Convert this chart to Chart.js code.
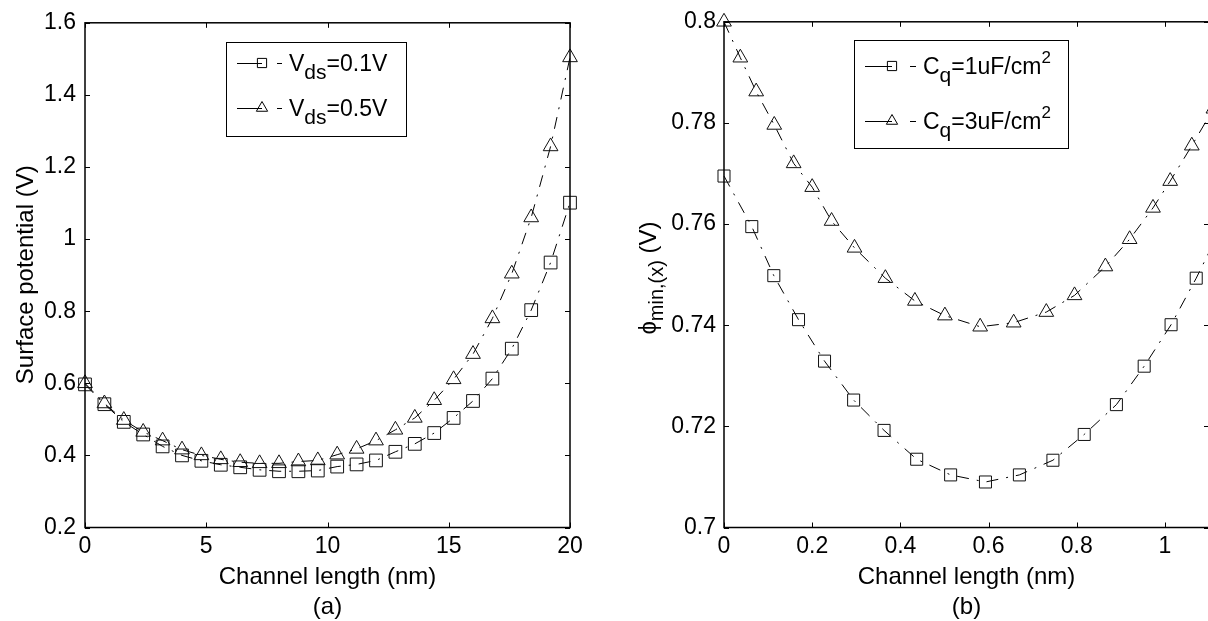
<!DOCTYPE html>
<html>
<head>
<meta charset="utf-8">
<title>Surface potential vs channel length</title>
<script src="https://cdn.jsdelivr.net/npm/chart.js@4.4.0/dist/chart.umd.min.js"></script>
<style>
  html, body { margin: 0; padding: 0; background: #fff; overflow: hidden; }
  #wrap { position: relative; width: 1208px; height: 621px; overflow: hidden; }
  #chartA { position: absolute; left: 0; top: 0; }
  #chartB { position: absolute; left: 604px; top: 0; }
</style>
</head>
<body>
<div id="wrap">
  <canvas id="chartA" width="604" height="621"></canvas>
  <canvas id="chartB" width="660" height="621"></canvas>
</div>
<script>
// (a) surface potential along the channel
const lengthA = [0, 0.8, 1.6, 2.4, 3.2, 4.0, 4.8, 5.6, 6.4, 7.2, 8.0, 8.8, 9.6,
                 10.4, 11.2, 12.0, 12.8, 13.6, 14.4, 15.2, 16.0, 16.8, 17.6, 18.4, 19.2, 20.0];
const vds01 = [0.597, 0.542, 0.493, 0.458, 0.425, 0.400, 0.385, 0.374, 0.367, 0.360, 0.356, 0.356, 0.358,
               0.369, 0.375, 0.386, 0.410, 0.432, 0.462, 0.504, 0.551, 0.613, 0.696, 0.803, 0.935, 1.101];
const vds05 = [0.600, 0.544, 0.498, 0.465, 0.441, 0.416, 0.400, 0.389, 0.381, 0.378, 0.378, 0.383, 0.386,
               0.402, 0.418, 0.441, 0.471, 0.504, 0.553, 0.611, 0.681, 0.780, 0.904, 1.060, 1.257, 1.504];

// (b) minimum potential, two quantum capacitances
const lengthCq1 = [0.000, 0.063, 0.113, 0.169, 0.228, 0.294, 0.363, 0.437, 0.514, 0.593, 0.670, 0.746,
                   0.817, 0.890, 0.953, 1.014, 1.071, 1.126];
const phiCq1 = [0.7695, 0.7595, 0.7498, 0.7411, 0.7329, 0.7252, 0.7192, 0.7135, 0.7104, 0.7090, 0.7104, 0.7133,
                0.7184, 0.7243, 0.7319, 0.7401, 0.7493, 0.7590];
const lengthCq3 = [0.000, 0.037, 0.073, 0.114, 0.158, 0.200, 0.244, 0.296, 0.366, 0.433, 0.501, 0.581,
                   0.657, 0.731, 0.795, 0.865, 0.920, 0.973, 1.012, 1.061, 1.110];
const phiCq3 = [0.8000, 0.7929, 0.7862, 0.7796, 0.7720, 0.7673, 0.7606, 0.7553, 0.7493, 0.7448, 0.7419, 0.7397,
                0.7405, 0.7426, 0.7459, 0.7516, 0.7570, 0.7632, 0.7685, 0.7755, 0.7828];

const ticksA_x = [0, 5, 10, 15, 20];
const ticksB_x = [0, 0.2, 0.4, 0.6, 0.8, 1];

const FONT = "'Liberation Sans', Arial, Helvetica, sans-serif";
const TICK_SIZE = 23;
const LABEL_SIZE = 24;

const toPoints = (xs, ys) => xs.map((x, i) => ({ x: x, y: ys[i] }));
const tickText = v => String(Math.round(v * 1000) / 1000);

// texte avec indices / exposants : suite de morceaux {t, s, dy}
function runsWidth(ctx, runs) {
  let w = 0;
  runs.forEach(r => { ctx.font = r.s + 'px ' + FONT; w += ctx.measureText(r.t).width; });
  return w;
}
function drawRuns(ctx, runs, x, y) {
  runs.forEach(r => {
    ctx.font = r.s + 'px ' + FONT;
    ctx.fillText(r.t, x, y + (r.dy || 0));
    x += ctx.measureText(r.t).width;
  });
}

function drawMarker(ctx, style, x, y, r) {
  ctx.beginPath();
  if (style === 'rect') {
    const s = r * Math.SQRT1_2;
    ctx.rect(x - s, y - s, 2 * s, 2 * s);
  } else {
    ctx.moveTo(x, y - r);
    ctx.lineTo(x + r * 0.866, y + r / 2);
    ctx.lineTo(x - r * 0.866, y + r / 2);
    ctx.closePath();
  }
  ctx.stroke();
}

// cadre type MATLAB : boite, graduations internes, titres, legende
const matlabAxes = {
  id: 'matlabAxes',
  afterDraw(chart, args, o) {
    const { ctx, chartArea: a, scales } = chart;
    ctx.save();
    ctx.strokeStyle = '#000';
    ctx.fillStyle = '#000';
    ctx.lineWidth = 1;
    ctx.setLineDash([]);

    ctx.beginPath();
    scales.x.ticks.forEach(t => {
      const px = Math.round(scales.x.getPixelForValue(t.value)) + 0.5;
      ctx.moveTo(px, a.bottom); ctx.lineTo(px, a.bottom - 5);
      ctx.moveTo(px, a.top); ctx.lineTo(px, a.top + 5);
    });
    scales.y.ticks.forEach(t => {
      const py = Math.round(scales.y.getPixelForValue(t.value)) + 0.5;
      ctx.moveTo(a.left, py); ctx.lineTo(a.left + 5, py);
      ctx.moveTo(a.right, py); ctx.lineTo(a.right - 5, py);
    });
    ctx.stroke();

    ctx.lineWidth = 1.5;
    ctx.strokeRect(a.left, a.top, a.right - a.left, a.bottom - a.top);

    // titres
    const cx = (a.left + a.right) / 2;
    ctx.textAlign = 'center';
    ctx.textBaseline = 'alphabetic';
    ctx.font = LABEL_SIZE + 'px ' + FONT;
    ctx.fillText(o.xTitle, cx, 584);
    ctx.fillText(o.caption, cx, 614);

    ctx.textAlign = 'left';
    ctx.save();
    ctx.translate(o.yTitleX, o.yTitleY);
    ctx.rotate(-Math.PI / 2);
    const yw = runsWidth(ctx, o.yTitle);
    drawRuns(ctx, o.yTitle, -yw / 2, 0);
    ctx.restore();

    // legende
    const L = o.legend;
    ctx.fillStyle = '#fff';
    ctx.fillRect(L.box[0], L.box[1], L.box[2] - L.box[0], L.box[3] - L.box[1]);
    ctx.lineWidth = 1;
    ctx.strokeStyle = '#000';
    ctx.strokeRect(L.box[0] + 0.5, L.box[1] + 0.5, L.box[2] - L.box[0], L.box[3] - L.box[1]);
    ctx.fillStyle = '#000';
    L.rows.forEach(row => {
      const y = row.y + 0.5;
      ctx.beginPath();
      ctx.moveTo(L.lineX[0], y); ctx.lineTo(L.lineX[1], y);
      ctx.moveTo(L.dashX[0], y); ctx.lineTo(L.dashX[1], y);
      ctx.stroke();
      drawMarker(ctx, row.style, L.lineX[1], row.y, 6.5);
      drawRuns(ctx, row.text, L.textX, row.y + 8);
    });
    ctx.restore();
  }
};

function seriesStyle(pointStyle, radius) {
  return {
    borderColor: '#000',
    borderWidth: 1,
    borderDash: [12, 8, 2, 8],
    tension: 0,
    pointStyle: pointStyle,
    pointRadius: radius,
    pointBorderColor: '#111',
    pointBorderWidth: 1,
    pointBackgroundColor: 'rgba(0,0,0,0)',
    fill: false
  };
}

function axisOptions(min, max, step, padding, afterFit, fixedTicks) {
  return {
    type: 'linear',
    min: min, max: max,
    grid: { display: false, drawTicks: false },
    border: { display: false },
    afterFit: afterFit,
    afterBuildTicks: fixedTicks ? (s => { s.ticks = fixedTicks.map(v => ({ value: v })); }) : undefined,
    ticks: {
      stepSize: step,
      includeBounds: false,
      padding: padding,
      color: '#000',
      maxRotation: 0,
      autoSkip: false,
      font: { family: FONT, size: TICK_SIZE },
      callback: v => tickText(v)
    }
  };
}

Chart.defaults.font.family = FONT;

new Chart(document.getElementById('chartA'), {
  type: 'line',
  data: {
    datasets: [
      Object.assign({ label: 'Vds=0.1V', data: toPoints(lengthA, vds01), clip: false }, seriesStyle('rect', 9)),
      Object.assign({ label: 'Vds=0.5V', data: toPoints(lengthA, vds05), clip: false }, seriesStyle('triangle', 8.5))
    ]
  },
  options: {
    responsive: false,
    animation: false,
    events: [],
    layout: { padding: { top: 21.5, left: 0, right: 34, bottom: 0 } },
    scales: {
      x: axisOptions(0, 20, 5, 5, s => { s.height = 93.5; }, ticksA_x),
      y: axisOptions(0.2, 1.6, 0.2, 9, s => { s.width = 85; })
    },
    plugins: {
      legend: { display: false },
      tooltip: { enabled: false },
      matlabAxes: {
        xTitle: 'Channel length (nm)',
        caption: '(a)',
        yTitleX: 33, yTitleY: 274.75,
        yTitle: [{ t: 'Surface potential (V)', s: LABEL_SIZE }],
        legend: {
          box: [226, 42, 406, 136],
          lineX: [237, 262], dashX: [277, 282], textX: 289,
          rows: [
            { y: 63, style: 'rect', text: [{ t: 'V', s: 23 }, { t: 'ds', s: 21, dy: 8 }, { t: '=0.1V', s: 23 }] },
            { y: 108, style: 'triangle', text: [{ t: 'V', s: 23 }, { t: 'ds', s: 21, dy: 8 }, { t: '=0.5V', s: 23 }] }
          ]
        }
      }
    }
  },
  plugins: [matlabAxes]
});

new Chart(document.getElementById('chartB'), {
  type: 'line',
  data: {
    datasets: [
      Object.assign({ label: 'Cq=1uF/cm2', data: toPoints(lengthCq1, phiCq1),
        clip: { left: false, top: false, right: 0, bottom: false } }, seriesStyle('rect', 8.5)),
      Object.assign({ label: 'Cq=3uF/cm2', data: toPoints(lengthCq3, phiCq3),
        clip: { left: false, top: false, right: 0, bottom: false } }, seriesStyle('triangle', 8.5))
    ]
  },
  options: {
    responsive: false,
    animation: false,
    events: [],
    layout: { padding: { top: 21.5, left: 0, right: 55, bottom: 0 } },
    scales: {
      x: axisOptions(0, 1.1, 0.2, 5, s => { s.height = 93.5; }, ticksB_x),
      y: axisOptions(0.7, 0.8, 0.02, 8, s => { s.width = 120; })
    },
    plugins: {
      legend: { display: false },
      tooltip: { enabled: false },
      matlabAxes: {
        xTitle: 'Channel length (nm)',
        caption: '(b)',
        yTitleX: 52, yTitleY: 278,
        yTitle: [{ t: '\u03D5', s: LABEL_SIZE }, { t: 'min,(x)', s: 20, dy: 7 }, { t: ' (V)', s: LABEL_SIZE }],
        legend: {
          box: [250, 40, 464, 148],
          lineX: [261, 288], dashX: [306, 312], textX: 319,
          rows: [
            { y: 66, style: 'rect', text: [{ t: 'C', s: 23 }, { t: 'q', s: 21, dy: 8 }, { t: '=1uF/cm', s: 23 }, { t: '2', s: 17, dy: -11 }] },
            { y: 121, style: 'triangle', text: [{ t: 'C', s: 23 }, { t: 'q', s: 21, dy: 8 }, { t: '=3uF/cm', s: 23 }, { t: '2', s: 17, dy: -11 }] }
          ]
        }
      }
    }
  },
  plugins: [matlabAxes]
});
</script>
</body>
</html>
